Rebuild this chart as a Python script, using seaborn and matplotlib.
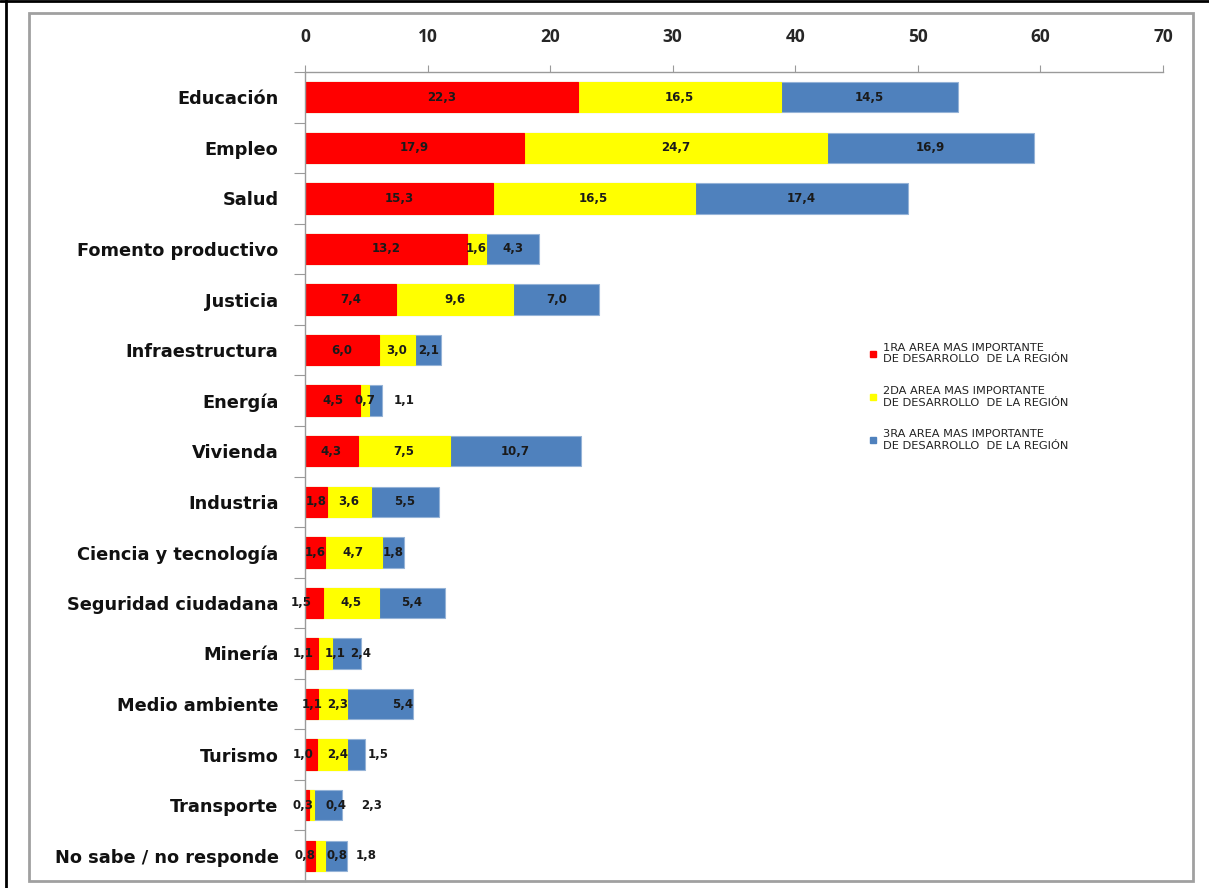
"""Areas mas importantes de desarrollo de la region - stacked bars."""

import matplotlib
matplotlib.use("Agg")
import matplotlib.pyplot as plt
from matplotlib.lines import Line2D
from matplotlib.patches import Rectangle
import seaborn as sns
import pandas as pd

categorias = [
    "Educación", "Empleo", "Salud", "Fomento productivo", "Justicia",
    "Infraestructura", "Energía", "Vivienda", "Industria",
    "Ciencia y tecnología", "Seguridad ciudadana", "Minería",
    "Medio ambiente", "Turismo", "Transporte", "No sabe / no responde",
]
primera = [22.3, 17.9, 15.3, 13.2, 7.4, 6.0, 4.5, 4.3, 1.8, 1.6, 1.5, 1.1, 1.1, 1.0, 0.3, 0.8]
segunda = [16.5, 24.7, 16.5, 1.6, 9.6, 3.0, 0.7, 7.5, 3.6, 4.7, 4.5, 1.1, 2.3, 2.4, 0.4, 0.8]
tercera = [14.5, 16.9, 17.4, 4.3, 7.0, 2.1, 1.1, 10.7, 5.5, 1.8, 5.4, 2.4, 5.4, 1.5, 2.3, 1.8]

series = [
    "1RA AREA MAS IMPORTANTE\nDE DESARROLLO  DE LA REGIÓN",
    "2DA AREA MAS IMPORTANTE\nDE DESARROLLO  DE LA REGIÓN",
    "3RA AREA MAS IMPORTANTE\nDE DESARROLLO  DE LA REGIÓN",
]
colores = ["#FF0000", "#FFFF00", "#4F81BD"]

# label nudges (data units) where the original moved labels off the segment centre
nudges = {
    (6, 2): 2.3,
    (10, 0): -1.1,
    (11, 0): -0.7, (11, 1): 0.8, (11, 2): 1.1,
    (12, 1): 0.4, (12, 2): 1.9,
    (13, 0): -0.65, (13, 1): 0.5, (13, 2): 1.8,
    (14, 0): -0.3, (14, 1): 2.0, (14, 2): 3.6,
    (15, 0): -0.4, (15, 1): 1.4, (15, 2): 2.5,
}

df = pd.DataFrame({"cat": categorias, "p1": primera, "p2": segunda, "p3": tercera})
df["c1"] = df["p1"]
df["c2"] = df["p1"] + df["p2"]
df["c3"] = df["c2"] + df["p3"]

sns.set_theme(style="white")
plt.rcParams["font.family"] = ["Open Sans", "DejaVu Sans"]
wide = ["DejaVu Sans"]

fig = plt.figure(figsize=(12.09, 8.88), dpi=100)
ax = fig.add_axes([305 / 1209, 1 - 881 / 888, 858 / 1209, (881 - 72) / 888])

# stacked bars: draw cumulative totals back to front
for col, color, edge in [("c3", colores[2], "#95B3D7"), ("c2", colores[1], colores[1]), ("c1", colores[0], colores[0])]:
    sns.barplot(data=df, x=col, y="cat", color=color, orient="h", width=0.6,
                edgecolor=edge, linewidth=0.8, saturation=1, ax=ax)

# value labels
for i, row in df.iterrows():
    starts = [0, row["c1"], row["c2"]]
    vals = [row["p1"], row["p2"], row["p3"]]
    for j in range(3):
        xc = starts[j] + vals[j] / 2 + nudges.get((i, j), 0)
        ax.text(xc, i, f"{vals[j]:.1f}".replace(".", ","), ha="center", va="center",
                fontsize=8.5, fontweight="bold", color="#1a1a1a", family=wide)

ax.set_xlim(0, 70)
ax.set_ylim(len(categorias) - 0.5, -0.5)
ax.set_xticks(range(0, 71, 10))
ax.xaxis.tick_top()
ax.tick_params(axis="x", length=5, width=0.8, color="#9a9a9a", pad=14,
               labelsize=12.5, direction="out")
for lab in ax.get_xticklabels():
    lab.set_fontweight("bold")
ax.set_xlabel("")
ax.set_ylabel("")

ax.set_yticks(range(len(categorias)))
ax.set_yticklabels(categorias, fontsize=12.8, fontweight="bold", color="#111111", family=wide)
ax.set_yticks([k + 0.5 for k in range(-1, len(categorias))], minor=True)
ax.tick_params(axis="y", which="major", length=0, pad=19)
ax.tick_params(axis="y", which="minor", length=8, width=0.8, color="#9a9a9a", left=True)

for s in ["right", "bottom"]:
    ax.spines[s].set_visible(False)
for s in ["top", "left"]:
    ax.spines[s].set_color("#9a9a9a")
    ax.spines[s].set_linewidth(1.0)

handles = [Line2D([], [], marker="s", linestyle="none", markersize=5,
                  markerfacecolor=c, markeredgecolor=c) for c in colores]
ax.legend(handles, series, loc="upper left", bbox_to_anchor=(0.646, 0.678),
          frameon=False, handlelength=0.6, handletextpad=0.6,
          labelspacing=1.9, labelcolor="#222222",
          prop={"family": wide, "size": 8.2})

# chart frame and page borders
fig.patches.append(Rectangle((29 / 1209, 1 - 881 / 888), (1193 - 29) / 1209, (881 - 13) / 888,
                             transform=fig.transFigure, fill=False,
                             edgecolor="#a0a0a0", linewidth=2))
fig.lines.append(Line2D([6 / 1209, 6 / 1209], [0, 1], transform=fig.transFigure,
                        color="black", linewidth=2))
fig.lines.append(Line2D([0, 1], [1 - 1 / 888, 1 - 1 / 888], transform=fig.transFigure,
                        color="black", linewidth=2))

fig.savefig("out.png", dpi=100)
plt.close(fig)
